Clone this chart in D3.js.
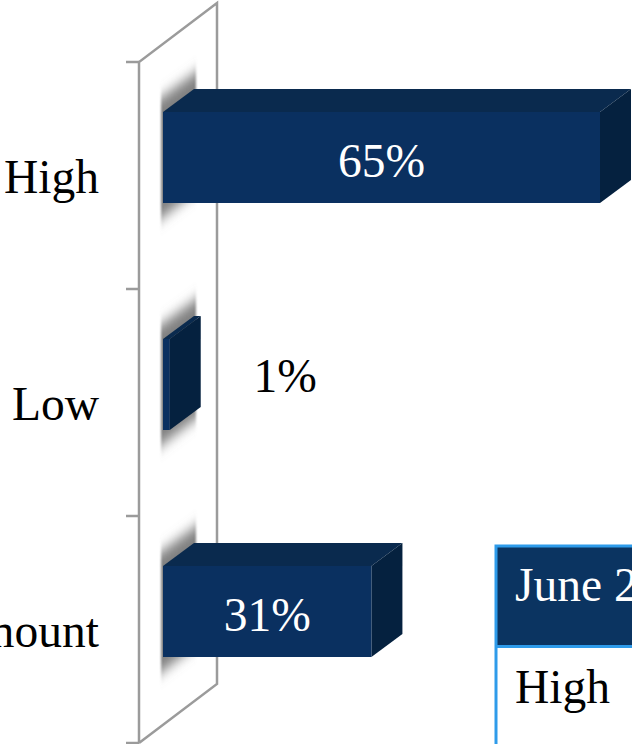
<!DOCTYPE html>
<html>
<head>
<meta charset="utf-8">
<script src="https://cdn.jsdelivr.net/npm/d3@7"></script>
<style>
  html, body { margin: 0; padding: 0; background: #fff; overflow: hidden; }
  svg { display: block; }
  text { font-family: "Liberation Serif", serif; font-size: 47.5px; }
</style>
</head>
<body>
<div id="chart"></div>
<script>
var categories = ["High", "Low", "Amount"];
var values = [65, 1, 31];
var tableHeader = "June 2";
var tableRow = "High";

(function() {
  var width = 632, height = 744;

  var depthX = 31, depthY = -23,
    barHeight = 91,
    wallTop = 62, wallBottom = 743, wallLeft = 139, wallDepthX = 78, wallDepthY = -59;

  var svg = d3.select("#chart")
    .append("svg")
    .attr("width", width)
    .attr("height", height);

  var x = d3.scaleLinear()
    .domain([0, 65])
    .range([163, 600]);

  var y = d3.scaleBand()
    .domain(categories)
    .range([wallTop, wallBottom]);

  var defs = svg.append("defs");
  defs.append("filter").attr("id", "shadow-blur")
    .attr("x", "-40%").attr("y", "-30%").attr("width", "180%").attr("height", "160%")
    .append("feGaussianBlur").attr("stdDeviation", 6);
  defs.append("filter").attr("id", "edge-blur")
    .attr("x", "-20%").attr("y", "-20%").attr("width", "140%").attr("height", "140%")
    .append("feGaussianBlur").attr("stdDeviation", 1);
  defs.append("clipPath").attr("id", "shadow-clip")
    .append("rect")
    .attr("x", 161).attr("y", -60)
    .attr("width", 35).attr("height", 220);

  function poly(points) {
    return points.map(function(p) { return p.join(","); }).join(" ");
  }

  // wall
  var wall = svg.append("g")
    .attr("fill", "none")
    .attr("stroke", "#9b9b9b")
    .attr("stroke-width", 2.5);

  wall.append("path")
    .attr("d", "M" + wallLeft + "," + wallBottom + "V" + wallTop +
      "L" + (wallLeft + wallDepthX) + "," + (wallTop + wallDepthY) +
      "V" + (wallBottom + wallDepthY) + "L" + wallLeft + "," + wallBottom);

  // ticks on the band edges
  var edges = categories.map(function(d) { return y(d); }).concat([wallBottom]);
  wall.selectAll("line")
    .data(edges)
    .enter().append("line")
    .attr("x1", wallLeft - 13)
    .attr("x2", wallLeft)
    .attr("y1", function(d) { return d; })
    .attr("y2", function(d) { return d; });

  var bars = svg.selectAll(".bar")
    .data(categories)
    .enter().append("g")
    .attr("class", "bar")
    .attr("transform", function(d) {
      return "translate(0," + (y(d) + 50) + ")";
    });

  // blurred shadow on the wall, wider than the clip so only the top and bottom fade much
  bars.append("g")
    .attr("filter", "url(#edge-blur)")
    .append("g")
    .attr("clip-path", "url(#shadow-clip)")
    .append("polygon")
    .attr("points", poly([
      [143, -1], [214, -53],
      [214, barHeight - 25], [143, barHeight + 29]
    ]))
    .attr("fill", "#808080")
    .attr("filter", "url(#shadow-blur)");

  // top
  bars.append("polygon")
    .attr("points", function(d, i) {
      return poly([[x(0), 0], [x(0) + depthX, depthY],
        [x(values[i]) + depthX, depthY], [x(values[i]), 0]]);
    })
    .attr("fill", "#0a2a4e");

  // side
  bars.append("polygon")
    .attr("points", function(d, i) {
      var r = x(values[i]);
      return poly([[r, 0], [r + depthX, depthY],
        [r + depthX, barHeight + depthY], [r, barHeight]]);
    })
    .attr("fill", "#05213f");

  // front
  bars.append("rect")
    .attr("x", x(0))
    .attr("y", 0)
    .attr("width", function(d, i) { return x(values[i]) - x(0); })
    .attr("height", barHeight)
    .attr("fill", "#0a3060");

  // value labels
  bars.append("text")
    .attr("x", function(d, i) {
      return values[i] < 5 ? x(values[i]) + 115.5 : (x(0) + x(values[i])) / 2;
    })
    .attr("y", function(d, i) { return values[i] < 5 ? 53 : 65; })
    .attr("text-anchor", "middle")
    .attr("fill", function(d, i) { return values[i] < 5 ? "#000" : "#fff"; })
    .text(function(d, i) { return values[i] + "%"; });

  // category labels
  svg.selectAll(".cat")
    .data(categories)
    .enter().append("text")
    .attr("class", "cat")
    .attr("x", 99)
    .attr("y", function(d) { return y(d) + y.bandwidth() / 2 + 17.5; })
    .attr("text-anchor", "end")
    .attr("fill", "#000")
    .text(function(d) { return d; });

  // table, runs off the page
  var table = svg.append("g");
  table.append("rect")
    .attr("x", 495).attr("y", 545)
    .attr("width", 200).attr("height", 102)
    .attr("fill", "#0b3461");
  table.append("path")
    .attr("d", "M496,744V546H632M496,646.5H632")
    .attr("fill", "none")
    .attr("stroke", "#2e9bea")
    .attr("stroke-width", 3);
  table.append("text")
    .attr("x", 515).attr("y", 601)
    .attr("fill", "#fff")
    .text(tableHeader);
  table.append("text")
    .attr("x", 515).attr("y", 703)
    .attr("fill", "#000")
    .text(tableRow);
})();
</script>
</body>
</html>
